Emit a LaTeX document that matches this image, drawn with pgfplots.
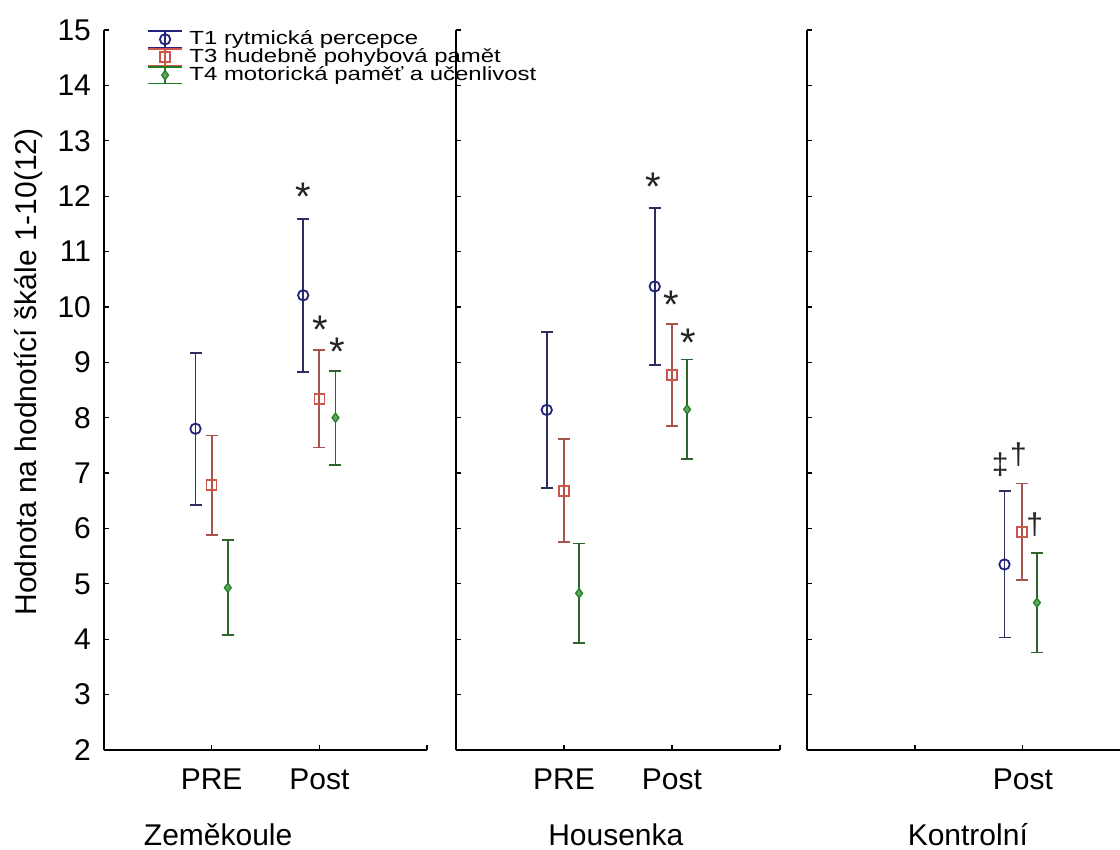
\documentclass[border=0pt]{standalone}
\usepackage{fontspec}
\setmainfont{Liberation Sans}
\newfontfamily\legfont[FakeStretch=1.26]{Liberation Sans}
\usepackage{pgfplots}
\usepackage{pgfplotstable}
\pgfplotsset{compat=1.18}

\definecolor{tone}{RGB}{35,35,125}
\definecolor{tonebar}{RGB}{45,45,95}
\definecolor{tthree}{RGB}{205,85,75}
\definecolor{tthreebar}{RGB}{165,85,75}
\definecolor{tfour}{RGB}{30,125,30}
\definecolor{tfourbar}{RGB}{45,100,45}

% mean and half-width of the interval, x = group position + offset
\pgfplotstableread{
x y e
0.85 7.80 1.37
1.85 10.21 1.38
}\zemA
\pgfplotstableread{
x y e
1.00 6.78 0.90
2.00 8.34 0.88
}\zemB
\pgfplotstableread{
x y e
1.15 4.93 0.86
2.15 8.00 0.85
}\zemC
\pgfplotstableread{
x y e
0.84 8.14 1.41
1.84 10.37 1.42
}\houA
\pgfplotstableread{
x y e
1.00 6.68 0.93
2.00 8.77 0.92
}\houB
\pgfplotstableread{
x y e
1.14 4.83 0.90
2.14 8.15 0.90
}\houC
\pgfplotstableread{
x y e
1.83 5.35 1.32
}\konA
\pgfplotstableread{
x y e
1.99 5.94 0.87
}\konB
\pgfplotstableread{
x y e
2.13 4.66 0.90
}\konC

\tikzset{
  sig/.style={font=\fontsize{15}{18}\selectfont, inner sep=0pt, text=black!85},
  star/.style={font=\fontsize{20}{22}\selectfont, inner sep=0pt, text=black!85, anchor=north},
  grp/.style={font=\fontsize{15}{18}\selectfont, anchor=base, yshift=-48pt},
}

\pgfplotsset{
  panel/.style={
    scale only axis, height=360pt,
    ymin=2, ymax=15, ytick={2,...,15},
    xmin=0,
    axis lines*=left,
    axis line style={line width=0.9pt, black},
    tick align=inside, major tick length=2.5pt,
    tick style={line width=0.6pt, black},
    clip=false,
    ticklabel style={font=\fontsize{15}{18}\selectfont},
    /pgf/number format/assume math mode=true,
    xticklabel style={yshift=-6pt},
    yticklabel style={xshift=-3pt},
  },
  ebar/.style={error bars/.cd, y dir=both, y explicit,
    error bar style={line width=0.9pt, #1},
    error mark options={rotate=90, line width=0.9pt, #1, mark size=3pt}},
  sone/.style={only marks, mark=o, color=tone, mark size=2.6pt,
    mark options={line width=0.9pt}, ebar=tonebar},
  sthree/.style={only marks, mark=square, color=tthree, mark size=2.5pt,
    mark options={line width=0.8pt}, ebar=tthreebar},
  sfour/.style={only marks, mark=diamond*, color=tfour, mark size=2.3pt,
    mark options={line width=0.6pt, fill=tfour!70!white}, ebar=tfourbar},
}

\begin{document}
\begin{tikzpicture}
\begin{axis}[panel, name=p1, at={(0,0)}, anchor=south west,
    width=161.5pt, xmax=3,
    xtick={1,2,3}, xticklabels={PRE,Post,},
    ylabel={Hodnota na hodnotící škále 1-10(12)},
    ylabel style={font=\fontsize{15}{18}\selectfont, at={(axis description cs:-0.235,0.525)}, anchor=center},
    legend style={at={(axis description cs:0.133,1.0)}, anchor=north west,
      draw=none, fill=none, font=\legfont\fontsize{9.5}{11}\selectfont,
      row sep=0pt, column sep=3pt, inner sep=0pt,
      nodes={inner sep=0.3pt, text height=6.5pt, text depth=1.5pt}},
    legend cell align=left,
    legend image code/.code={
      \draw[#1, solid, line width=0.75pt] (0pt,-4.1pt) -- (17pt,-4.1pt) (8.5pt,-4.1pt) -- (8.5pt,4.1pt) (0pt,4.1pt) -- (17pt,4.1pt);
      \draw[#1] plot coordinates {(8.5pt,0pt)};
    },
  ]
\addplot[sone] table[x=x, y=y, y error=e] {\zemA};
\addplot[sthree] table[x=x, y=y, y error=e] {\zemB};
\addplot[sfour] table[x=x, y=y, y error=e] {\zemC};
\legend{T1 rytmická percepce, T3 hudebně pohybová pamět, T4 motorická paměť a učenlivost}
\node[star] at (axis cs:1.85,12.24) {*};
\node[star] at (axis cs:2.01,9.84) {*};
\node[star] at (axis cs:2.17,9.44) {*};
\node[grp] at (axis cs:1.06,2) {Zeměkoule};
\end{axis}

\begin{axis}[panel, at={(176pt,0)}, anchor=south west,
    width=162pt, xmax=3,
    xtick={1,2,3}, xticklabels={PRE,Post,}, yticklabels={},
  ]
\addplot[sone] table[x=x, y=y, y error=e] {\houA};
\addplot[sthree] table[x=x, y=y, y error=e] {\houB};
\addplot[sfour] table[x=x, y=y, y error=e] {\houC};
\node[star] at (axis cs:1.83,12.42) {*};
\node[star] at (axis cs:1.99,10.30) {*};
\node[star] at (axis cs:2.15,9.60) {*};
\node[grp] at (axis cs:1.48,2) {Housenka};
\end{axis}

\begin{axis}[panel, at={(351.5pt,0)}, anchor=south west,
    width=156.5pt, xmax=2.9,
    xtick={1,2}, xticklabels={,Post}, yticklabels={},
  ]
\addplot[sone] table[x=x, y=y, y error=e] {\konA};
\addplot[sthree] table[x=x, y=y, y error=e] {\konB};
\addplot[sfour] table[x=x, y=y, y error=e] {\konC};
\node[sig] at (axis cs:1.79,7.15) {‡};
\node[sig] at (axis cs:1.96,7.33) {†};
\node[sig] at (axis cs:2.11,6.06) {†};
\node[grp] at (axis cs:1.49,2) {Kontrolní};
\end{axis}

\pgfresetboundingbox
\path[use as bounding box] (-52pt,-50pt) rectangle (508pt,375pt);
\end{tikzpicture}
\end{document}
